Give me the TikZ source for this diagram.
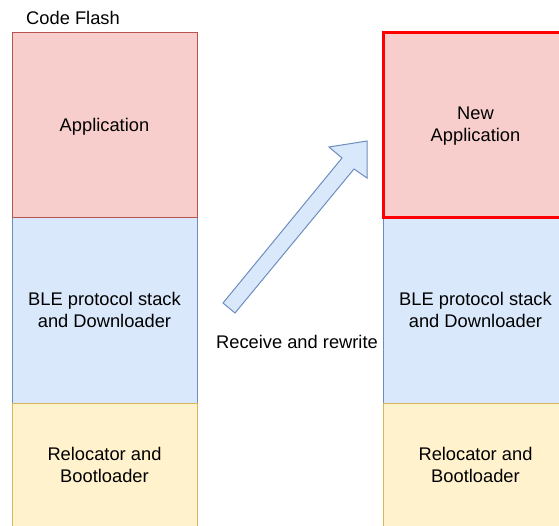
\documentclass[tikz,border=0pt]{standalone}
\usepackage{fontspec}
\setmainfont{Liberation Sans}
\definecolor{appfill}{HTML}{F8CECC}
\definecolor{appline}{HTML}{B85450}
\definecolor{blefill}{HTML}{DAE8FC}
\definecolor{bleline}{HTML}{6C8EBF}
\definecolor{bootfill}{HTML}{FFF2CC}
\definecolor{bootline}{HTML}{D6B656}
\definecolor{newline}{HTML}{FF0000}
\begin{document}
\begin{tikzpicture}[x=1pt,y=-1pt,
    every node/.style={font=\fontsize{18.3}{21.8}\selectfont, align=center, inner sep=0pt},
    block/.style={draw, rectangle, line width=1pt, minimum width=185pt, text depth=0pt}]
            \useasboundingbox (0,0) rectangle (559,525);
            \clip (0,0) rectangle (559,525);

            \node (title) at (26,18) [anchor=west] {Code Flash};

            % old image
            \node (ble) at (104.5,310) [block, fill=blefill, draw=bleline, minimum height=186pt] {BLE protocol stack\\and Downloader};
            \node (boot) at (104.5,465) [block, fill=bootfill, draw=bootline, minimum height=124pt] {Relocator and\\Bootloader};
            \node (app) at (104.5,124.5) [block, fill=appfill, draw=appline, minimum height=185pt] {Application};

            % new image
            \node (BLE) at (475.5,310) [block, fill=blefill, draw=bleline, minimum height=186pt] {BLE protocol stack\\and Downloader};
            \node (BOOT) at (475.5,465) [block, fill=bootfill, draw=bootline, minimum height=124pt] {Relocator and\\Bootloader};
            \node (APP) at (475.5,124.5) [block, fill=appfill, draw=newline, line width=3pt, minimum height=185pt] {New\\Application};

            \draw[fill=blefill, draw=bleline, line width=1pt, line join=miter]
                (223,303) -- (342,158) -- (329,147) -- (367,141) -- (367,178) -- (354,169) -- (235,313) -- cycle;
            \node (rw) at (297,342) {Receive and rewrite};
        \end{tikzpicture}
\end{document}
